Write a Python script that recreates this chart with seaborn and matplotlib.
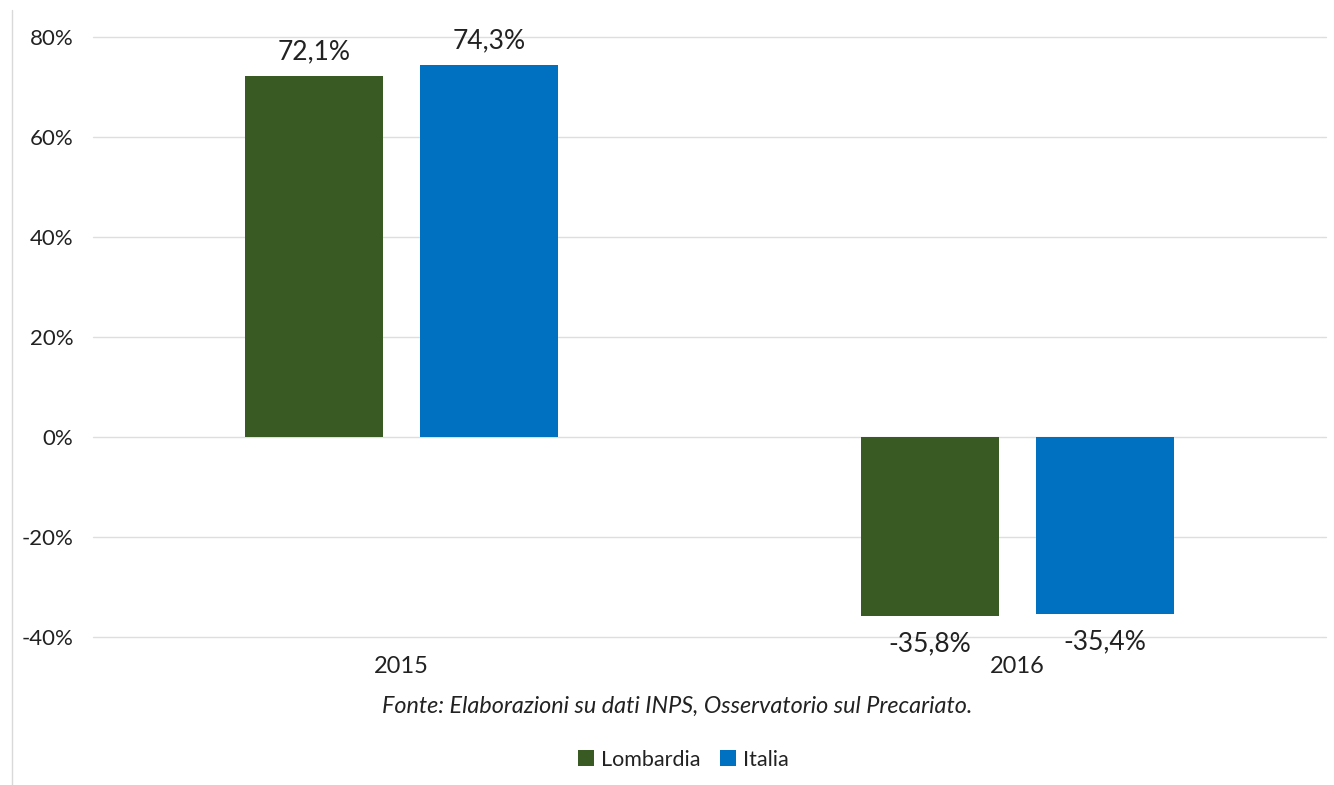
import numpy as np
import pandas as pd
import matplotlib
matplotlib.use("Agg")
import matplotlib.pyplot as plt
import seaborn as sns
from matplotlib.lines import Line2D

# Dati
anni = ["2015", "2016"]
lombardia = [72.1, -35.8]
italia = [74.3, -35.4]
serie = ["Lombardia", "Italia"]
colori = ["#3a5a24", "#0070c0"]
yticks = [-40, -20, 0, 20, 40, 60, 80]

df = pd.DataFrame({
    "Anno": anni * 2,
    "Serie": ["Lombardia"] * 2 + ["Italia"] * 2,
    "Valore": lombardia + italia,
})

sns.set_theme(style="white")
plt.rcParams["font.family"] = ["Lato", "DejaVu Sans"]

fig = plt.figure(figsize=(13.34, 7.85), dpi=100)
ax = fig.add_axes([0.0697, 0.1885, 0.9243, 0.7645])

sns.barplot(data=df, x="Anno", y="Valore", hue="Serie", hue_order=serie,
            palette=colori, width=0.568, gap=0.212, ax=ax, legend=False,
            saturation=1, linewidth=0)

ax.set_ylim(-40, 80)
ax.set_xlim(-0.5, 1.5)
ax.set_yticks(yticks)
ax.set_yticklabels([f"{v}%" for v in yticks], fontsize=16, color="#222222")
ax.tick_params(axis="y", length=0, pad=14)
ax.tick_params(axis="x", length=0, pad=14, labelsize=17, labelcolor="#222222")
ax.grid(axis="y", color="#dedede", linewidth=1)
ax.set_axisbelow(True)
for g in ax.get_ygridlines():
    g.set_clip_on(False)
for s in ax.spines.values():
    s.set_visible(False)
ax.set_xlabel("")
ax.set_ylabel("")

for cont in ax.containers:
    for bar in cont:
        h = bar.get_height()
        x = bar.get_x() + bar.get_width() / 2
        testo = f"{h:.1f}%".replace(".", ",")
        if h >= 0:
            ax.annotate(testo, (x, h), xytext=(0, 9), textcoords="offset points",
                        ha="center", va="bottom", fontsize=19, color="#222222")
        else:
            ax.annotate(testo, (x, h), xytext=(0, -11), textcoords="offset points",
                        ha="center", va="top", fontsize=19, color="#222222")

fig.text(0.508, 0.100, "Fonte: Elaborazioni su dati INPS, Osservatorio sul Precariato.",
         ha="center", va="center", fontsize=16.8, style="italic", color="#222222")

handles = [Line2D([0], [0], marker="s", linestyle="", markersize=11,
                  markerfacecolor=c, markeredgewidth=0) for c in colori]
fig.legend(handles, serie, loc="center", bbox_to_anchor=(0.512, 0.032), ncol=2,
           frameon=False, fontsize=15.5, handlelength=0.8, handletextpad=0.3,
           columnspacing=0.9, labelcolor="#222222")

fig.add_artist(Line2D([0.009, 0.009], [0.0, 0.987], color="#d9d9d9", linewidth=1,
                      transform=fig.transFigure))

fig.savefig("out.png", dpi=100)
